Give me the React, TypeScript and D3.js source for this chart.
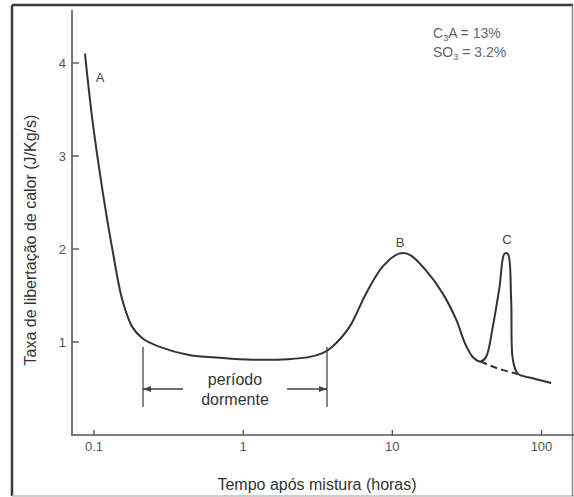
import React from "react";
import * as d3 from "d3";

// heat release curve (hours, J/Kg/s)
const hours = [0.087, 0.0975, 0.114, 0.133, 0.155, 0.181, 0.211, 0.273, 0.434, 0.7, 1.15, 2.0, 2.8, 3.4, 3.96, 5.15, 6.66, 8.61, 11.1, 13.0, 16.8, 21.8, 26.8, 31.0, 35.0, 39.0, 42.5, 47.1, 52.3, 56.5, 59.4, 62.6, 64.3, 69.4, 87.5, 116];
const rate = [4.1, 3.39, 2.63, 1.99, 1.45, 1.16, 1.04, 0.95, 0.86, 0.83, 0.81, 0.815, 0.84, 0.88, 0.95, 1.16, 1.52, 1.81, 1.95, 1.94, 1.77, 1.52, 1.24, 0.97, 0.83, 0.79, 0.84, 1.16, 1.59, 1.95, 1.95, 1.45, 0.81, 0.66, 0.61, 0.56];
// dashed baseline under peak C
const dashHours = [39.0, 50, 69.4];
const dashRate = [0.79, 0.72, 0.655];

const xTicks = [0.1, 1, 10, 100];
const xTickLabels = ["0.1", "1", "10", "100"];
const yTicks = [1, 2, 3, 4];

const W = 574;
const H = 497;

export default function App() {
  const x = d3.scaleLog().domain([0.1, 100]).range([94, 541.5]);
  const y = d3.scaleLinear().domain([0, 4]).range([435, 63]);

  const line = d3
    .line<number>()
    .x((d, i) => x(hours[i]))
    .y((d) => y(d))
    .curve(d3.curveCatmullRom.alpha(0.5));

  const dashLine = d3
    .line<number>()
    .x((d, i) => x(dashHours[i]))
    .y((d) => y(d))
    .curve(d3.curveCatmullRom.alpha(0.5));

  const font = "'Liberation Sans', Arial, sans-serif";
  const axisColor = "#555";
  const x0 = 143;
  const x1 = 327;

  return (
    <svg width={W} height={H} style={{ position: "absolute", left: 0, top: 0, background: "#fff" }} fontFamily={font}>
      <line x1={12} y1={5} x2={573} y2={5} stroke="#3a3a3a" strokeWidth={2.5} />
      <line x1={12} y1={5} x2={12} y2={496} stroke="#3a3a3a" strokeWidth={2.5} />
      <line x1={12} y1={496} x2={574} y2={496} stroke="#bbb" strokeWidth={1.5} />
      <line x1={572.5} y1={5} x2={572.5} y2={496} stroke="#888" strokeWidth={1.5} />

      {/* axes */}
      <line x1={72} y1={10} x2={72} y2={435} stroke={axisColor} strokeWidth={1.6} />
      <line x1={71} y1={435} x2={574} y2={435} stroke={axisColor} strokeWidth={1.6} />
      {yTicks.map((t) => (
        <g key={t}>
          <line x1={72} x2={79} y1={y(t)} y2={y(t)} stroke={axisColor} strokeWidth={1.4} />
          <text x={66} y={y(t) + 4.5} textAnchor="end" fontSize={13} fill="#555">
            {t}
          </text>
        </g>
      ))}
      {xTicks.map((t, i) => (
        <g key={t}>
          <line x1={x(t)} x2={x(t)} y1={430} y2={435} stroke={axisColor} strokeWidth={1.4} />
          <text x={x(t)} y={451} textAnchor="middle" fontSize={13} fill="#555">
            {xTickLabels[i]}
          </text>
        </g>
      ))}

      <text x={317} y={490} textAnchor="middle" fontSize={16} fill="#333">
        Tempo após mistura (horas)
      </text>
      <text transform="translate(36,240) rotate(-90)" textAnchor="middle" fontSize={16} fill="#333">
        Taxa de libertação de calor (J/Kg/s)
      </text>

      {/* curves */}
      <path d={line(rate) || ""} fill="none" stroke="#333" strokeWidth={2} strokeLinejoin="round" />
      <path d={dashLine(dashRate) || ""} fill="none" stroke="#333" strokeWidth={2} strokeDasharray="7,4" />

      <text x={100} y={82} textAnchor="middle" fontSize={13} fill="#444">A</text>
      <text x={400} y={247} textAnchor="middle" fontSize={13} fill="#444">B</text>
      <text x={507} y={244} textAnchor="middle" fontSize={13} fill="#444">C</text>

      {/* dormant period */}
      <line x1={x0} x2={x0} y1={347} y2={407} stroke="#444" strokeWidth={1.3} />
      <line x1={x1} x2={x1} y1={347} y2={407} stroke="#444" strokeWidth={1.3} />
      <line x1={x0} x2={183} y1={389} y2={389} stroke="#444" strokeWidth={1.3} />
      <line x1={287} x2={x1} y1={389} y2={389} stroke="#444" strokeWidth={1.3} />
      <path d={`M${x0},389 l8,-3 l0,6 z`} fill="#444" />
      <path d={`M${x1},389 l-8,-3 l0,6 z`} fill="#444" />
      <text x={235} y={385} textAnchor="middle" fontSize={16} fill="#333">período</text>
      <text x={235} y={405} textAnchor="middle" fontSize={16} fill="#333">dormente</text>

      {/* composition */}
      <text x={433} y={38} fontSize={14} fill="#666">
        C<tspan fontSize={9} dy={3}>3</tspan><tspan dy={-3}>A = 13%</tspan>
      </text>
      <text x={433} y={57} fontSize={14} fill="#666">
        SO<tspan fontSize={9} dy={3}>3</tspan><tspan dy={-3}> = 3.2%</tspan>
      </text>
    </svg>
  );
}
